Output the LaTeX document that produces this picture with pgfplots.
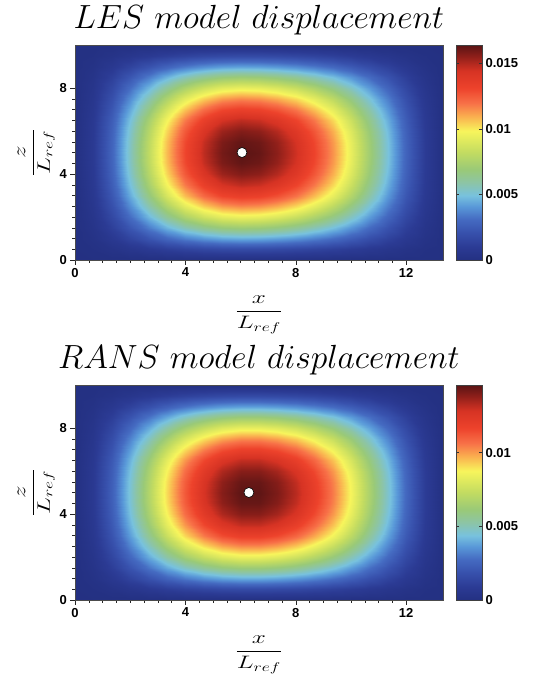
\RequirePackage{fix-cm}
\documentclass[border=0pt]{standalone}
\usepackage{fontspec}
\usepackage{pgfplots}
\pgfplotsset{compat=1.18}
\newfontfamily\arialf{Liberation Sans}
\pgfplotsset{
  colorbar/width=26pt,
  dispstyle/.style={
    width=368pt, height=215pt, scale only axis,
    xmin=0, xmax=13.333, ymin=0, ymax=10,
    xtick={0,4,8,12}, ytick={0,4,8},
    minor x tick num=7, minor y tick num=7,
    tick align=outside, tick pos=left,
    major tick length=4.5pt, minor tick length=2.5pt,
    tick style={black!85, line width=0.5pt},
    axis line style={black!70, line width=0.5pt},
    axis on top,
    ticklabel style={font=\arialf\bfseries\fontsize{13}{15}\selectfont},
    /pgf/number format/assume math mode=true,
    colormap={disp}{rgb(0pt)=(0.14,0.19,0.51); rgb(6pt)=(0.17,0.23,0.58); rgb(13pt)=(0.22,0.32,0.68); rgb(19pt)=(0.27,0.42,0.76); rgb(25pt)=(0.35,0.60,0.85); rgb(30pt)=(0.47,0.76,0.87); rgb(36pt)=(0.55,0.77,0.65); rgb(42pt)=(0.60,0.79,0.47); rgb(50pt)=(0.76,0.86,0.38); rgb(60pt)=(0.97,0.96,0.36); rgb(67pt)=(0.98,0.68,0.31); rgb(73pt)=(0.97,0.44,0.28); rgb(80pt)=(0.93,0.26,0.17); rgb(88pt)=(0.84,0.20,0.14); rgb(95pt)=(0.55,0.12,0.10); rgb(100pt)=(0.35,0.08,0.08)},
    colorbar,
    xlabel={\fontsize{18}{22}\selectfont\scalebox{1.4}[1]{$\displaystyle\frac{x}{L_{ref}}$}},
    ylabel={\fontsize{18}{22}\selectfont\scalebox{1.4}[1]{$\displaystyle\frac{z}{L_{ref}}$}},
    xlabel style={at={(axis description cs:0.5,-0.167)}, anchor=north, inner sep=0pt},
    ylabel style={at={(axis description cs:-0.054,0.5)}, anchor=south, inner sep=0pt},
    title style={at={(axis description cs:0.5,1)}, anchor=base, yshift=11pt, inner sep=0pt, font=\fontsize{33.5}{40}\selectfont},
  },
  cbstyle/.style={
    width=26pt, scale only axis, xmin=0, xmax=1,
    at={(parent axis.north east)}, anchor=north west, xshift=4.5pt,
    scaled y ticks=false,
    tick align=inside, major tick length=3pt,
    tick style={black!80, line width=0.5pt},
    axis line style={black!75, line width=0.6pt},
    yticklabel style={font=\arialf\bfseries\fontsize{13}{15}\selectfont},
  },
}
\begin{document}
\begin{tikzpicture}
\useasboundingbox (0,0) rectangle (541pt,-686pt);
\begin{axis}[dispstyle, at={(75pt,-45pt)}, anchor=north west,
  title={$LES\ model\ displacement$},
  point meta min=0, point meta max=0.0164,
  colorbar style={cbstyle, ytick={0,0.005,0.01,0.015}, yticklabels={0,0.005,0.01,0.015}}]
\addplot[surf, shader=interp, point meta=explicit, mesh/rows=21, mesh/cols=21] coordinates {
(0,0)[0] (0.667,0)[0] (1.333,0)[0] (2,0)[0] (2.667,0)[0] (3.333,0)[0] (4,0)[0] (4.667,0)[0] (5.333,0)[0] (6,0)[0] (6.667,0)[0] (7.333,0)[0] (8,0)[0] (8.667,0)[0] (9.333,0)[0] (10,0)[0] (10.667,0)[0] (11.333,0)[0] (12,0)[0] (12.667,0)[0] (13.333,0)[0]

(0,0.5)[0] (0.667,0.5)[0.00010] (1.333,0.5)[0.00032] (2,0.5)[0.00060] (2.667,0.5)[0.00090] (3.333,0.5)[0.00119] (4,0.5)[0.00144] (4.667,0.5)[0.00164] (5.333,0.5)[0.00176] (6,0.5)[0.00181] (6.667,0.5)[0.00179] (7.333,0.5)[0.00172] (8,0.5)[0.00160] (8.667,0.5)[0.00145] (9.333,0.5)[0.00126] (10,0.5)[0.00103] (10.667,0.5)[0.00079] (11.333,0.5)[0.00055] (12,0.5)[0.00031] (12.667,0.5)[0.00011] (13.333,0.5)[0]

(0,1)[0] (0.667,1)[0.00024] (1.333,1)[0.00076] (2,1)[0.00144] (2.667,1)[0.00217] (3.333,1)[0.00287] (4,1)[0.00347] (4.667,1)[0.00394] (5.333,1)[0.00424] (6,1)[0.00436] (6.667,1)[0.00431] (7.333,1)[0.00414] (8,1)[0.00387] (8.667,1)[0.00349] (9.333,1)[0.00303] (10,1)[0.00249] (10.667,1)[0.00191] (11.333,1)[0.00132] (12,1)[0.00075] (12.667,1)[0.00027] (13.333,1)[0]

(0,1.5)[0] (0.667,1.5)[0.00038] (1.333,1.5)[0.00123] (2,1.5)[0.00231] (2.667,1.5)[0.00348] (3.333,1.5)[0.00460] (4,1.5)[0.00557] (4.667,1.5)[0.00632] (5.333,1.5)[0.00681] (6,1.5)[0.00699] (6.667,1.5)[0.00691] (7.333,1.5)[0.00664] (8,1.5)[0.00620] (8.667,1.5)[0.00560] (9.333,1.5)[0.00486] (10,1.5)[0.00400] (10.667,1.5)[0.00307] (11.333,1.5)[0.00212] (12,1.5)[0.00120] (12.667,1.5)[0.00043] (13.333,1.5)[0]

(0,2)[0] (0.667,2)[0.00051] (1.333,2)[0.00166] (2,2)[0.00313] (2.667,2)[0.00471] (3.333,2)[0.00622] (4,2)[0.00754] (4.667,2)[0.00856] (5.333,2)[0.00921] (6,2)[0.00946] (6.667,2)[0.00935] (7.333,2)[0.00899] (8,2)[0.00840] (8.667,2)[0.00758] (9.333,2)[0.00658] (10,2)[0.00542] (10.667,2)[0.00416] (11.333,2)[0.00286] (12,2)[0.00162] (12.667,2)[0.00058] (13.333,2)[0]

(0,2.5)[0] (0.667,2.5)[0.00063] (1.333,2.5)[0.00204] (2,2.5)[0.00385] (2.667,2.5)[0.00579] (3.333,2.5)[0.00765] (4,2.5)[0.00927] (4.667,2.5)[0.01053] (5.333,2.5)[0.01133] (6,2.5)[0.01163] (6.667,2.5)[0.01150] (7.333,2.5)[0.01106] (8,2.5)[0.01033] (8.667,2.5)[0.00932] (9.333,2.5)[0.00809] (10,2.5)[0.00666] (10.667,2.5)[0.00511] (11.333,2.5)[0.00352] (12,2.5)[0.00200] (12.667,2.5)[0.00071] (13.333,2.5)[0]

(0,3)[0] (0.667,3)[0.00072] (1.333,3)[0.00235] (2,3)[0.00444] (2.667,3)[0.00668] (3.333,3)[0.00883] (4,3)[0.01070] (4.667,3)[0.01215] (5.333,3)[0.01308] (6,3)[0.01342] (6.667,3)[0.01327] (7.333,3)[0.01276] (8,3)[0.01192] (8.667,3)[0.01076] (9.333,3)[0.00933] (10,3)[0.00769] (10.667,3)[0.00590] (11.333,3)[0.00406] (12,3)[0.00231] (12.667,3)[0.00082] (13.333,3)[0]

(0,3.5)[0] (0.667,3.5)[0.00080] (1.333,3.5)[0.00260] (2,3.5)[0.00490] (2.667,3.5)[0.00737] (3.333,3.5)[0.00974] (4,3.5)[0.01180] (4.667,3.5)[0.01339] (5.333,3.5)[0.01441] (6,3.5)[0.01480] (6.667,3.5)[0.01463] (7.333,3.5)[0.01407] (8,3.5)[0.01314] (8.667,3.5)[0.01186] (9.333,3.5)[0.01029] (10,3.5)[0.00848] (10.667,3.5)[0.00650] (11.333,3.5)[0.00448] (12,3.5)[0.00254] (12.667,3.5)[0.00091] (13.333,3.5)[0]

(0,4)[0] (0.667,4)[0.00085] (1.333,4)[0.00276] (2,4)[0.00521] (2.667,4)[0.00783] (3.333,4)[0.01035] (4,4)[0.01255] (4.667,4)[0.01424] (5.333,4)[0.01533] (6,4)[0.01574] (6.667,4)[0.01556] (7.333,4)[0.01496] (8,4)[0.01397] (8.667,4)[0.01262] (9.333,4)[0.01094] (10,4)[0.00901] (10.667,4)[0.00692] (11.333,4)[0.00476] (12,4)[0.00270] (12.667,4)[0.00096] (13.333,4)[0]

(0,4.5)[0] (0.667,4.5)[0.00088] (1.333,4.5)[0.00285] (2,4.5)[0.00538] (2.667,4.5)[0.00809] (3.333,4.5)[0.01070] (4,4.5)[0.01296] (4.667,4.5)[0.01471] (5.333,4.5)[0.01583] (6,4.5)[0.01625] (6.667,4.5)[0.01607] (7.333,4.5)[0.01546] (8,4.5)[0.01443] (8.667,4.5)[0.01303] (9.333,4.5)[0.01130] (10,4.5)[0.00931] (10.667,4.5)[0.00714] (11.333,4.5)[0.00492] (12,4.5)[0.00279] (12.667,4.5)[0.00100] (13.333,4.5)[0]

(0,5)[0] (0.667,5)[0.00089] (1.333,5)[0.00288] (2,5)[0.00543] (2.667,5)[0.00816] (3.333,5)[0.01079] (4,5)[0.01307] (4.667,5)[0.01484] (5.333,5)[0.01597] (6,5)[0.01640] (6.667,5)[0.01621] (7.333,5)[0.01559] (8,5)[0.01456] (8.667,5)[0.01315] (9.333,5)[0.01140] (10,5)[0.00939] (10.667,5)[0.00721] (11.333,5)[0.00496] (12,5)[0.00282] (12.667,5)[0.00101] (13.333,5)[0]

(0,5.5)[0] (0.667,5.5)[0.00088] (1.333,5.5)[0.00285] (2,5.5)[0.00538] (2.667,5.5)[0.00809] (3.333,5.5)[0.01070] (4,5.5)[0.01296] (4.667,5.5)[0.01471] (5.333,5.5)[0.01583] (6,5.5)[0.01625] (6.667,5.5)[0.01607] (7.333,5.5)[0.01546] (8,5.5)[0.01443] (8.667,5.5)[0.01303] (9.333,5.5)[0.01130] (10,5.5)[0.00931] (10.667,5.5)[0.00714] (11.333,5.5)[0.00492] (12,5.5)[0.00279] (12.667,5.5)[0.00100] (13.333,5.5)[0]

(0,6)[0] (0.667,6)[0.00085] (1.333,6)[0.00276] (2,6)[0.00521] (2.667,6)[0.00783] (3.333,6)[0.01035] (4,6)[0.01255] (4.667,6)[0.01424] (5.333,6)[0.01533] (6,6)[0.01574] (6.667,6)[0.01556] (7.333,6)[0.01496] (8,6)[0.01397] (8.667,6)[0.01262] (9.333,6)[0.01094] (10,6)[0.00901] (10.667,6)[0.00692] (11.333,6)[0.00476] (12,6)[0.00270] (12.667,6)[0.00096] (13.333,6)[0]

(0,6.5)[0] (0.667,6.5)[0.00080] (1.333,6.5)[0.00260] (2,6.5)[0.00490] (2.667,6.5)[0.00737] (3.333,6.5)[0.00974] (4,6.5)[0.01180] (4.667,6.5)[0.01339] (5.333,6.5)[0.01441] (6,6.5)[0.01480] (6.667,6.5)[0.01463] (7.333,6.5)[0.01407] (8,6.5)[0.01314] (8.667,6.5)[0.01186] (9.333,6.5)[0.01029] (10,6.5)[0.00848] (10.667,6.5)[0.00650] (11.333,6.5)[0.00448] (12,6.5)[0.00254] (12.667,6.5)[0.00091] (13.333,6.5)[0]

(0,7)[0] (0.667,7)[0.00072] (1.333,7)[0.00235] (2,7)[0.00444] (2.667,7)[0.00668] (3.333,7)[0.00883] (4,7)[0.01070] (4.667,7)[0.01215] (5.333,7)[0.01308] (6,7)[0.01342] (6.667,7)[0.01327] (7.333,7)[0.01276] (8,7)[0.01192] (8.667,7)[0.01076] (9.333,7)[0.00933] (10,7)[0.00769] (10.667,7)[0.00590] (11.333,7)[0.00406] (12,7)[0.00231] (12.667,7)[0.00082] (13.333,7)[0]

(0,7.5)[0] (0.667,7.5)[0.00063] (1.333,7.5)[0.00204] (2,7.5)[0.00385] (2.667,7.5)[0.00579] (3.333,7.5)[0.00765] (4,7.5)[0.00927] (4.667,7.5)[0.01053] (5.333,7.5)[0.01133] (6,7.5)[0.01163] (6.667,7.5)[0.01150] (7.333,7.5)[0.01106] (8,7.5)[0.01033] (8.667,7.5)[0.00932] (9.333,7.5)[0.00809] (10,7.5)[0.00666] (10.667,7.5)[0.00511] (11.333,7.5)[0.00352] (12,7.5)[0.00200] (12.667,7.5)[0.00071] (13.333,7.5)[0]

(0,8)[0] (0.667,8)[0.00051] (1.333,8)[0.00166] (2,8)[0.00313] (2.667,8)[0.00471] (3.333,8)[0.00622] (4,8)[0.00754] (4.667,8)[0.00856] (5.333,8)[0.00921] (6,8)[0.00946] (6.667,8)[0.00935] (7.333,8)[0.00899] (8,8)[0.00840] (8.667,8)[0.00758] (9.333,8)[0.00658] (10,8)[0.00542] (10.667,8)[0.00416] (11.333,8)[0.00286] (12,8)[0.00162] (12.667,8)[0.00058] (13.333,8)[0]

(0,8.5)[0] (0.667,8.5)[0.00038] (1.333,8.5)[0.00123] (2,8.5)[0.00231] (2.667,8.5)[0.00348] (3.333,8.5)[0.00460] (4,8.5)[0.00557] (4.667,8.5)[0.00632] (5.333,8.5)[0.00681] (6,8.5)[0.00699] (6.667,8.5)[0.00691] (7.333,8.5)[0.00664] (8,8.5)[0.00620] (8.667,8.5)[0.00560] (9.333,8.5)[0.00486] (10,8.5)[0.00400] (10.667,8.5)[0.00307] (11.333,8.5)[0.00212] (12,8.5)[0.00120] (12.667,8.5)[0.00043] (13.333,8.5)[0]

(0,9)[0] (0.667,9)[0.00024] (1.333,9)[0.00076] (2,9)[0.00144] (2.667,9)[0.00217] (3.333,9)[0.00287] (4,9)[0.00347] (4.667,9)[0.00394] (5.333,9)[0.00424] (6,9)[0.00436] (6.667,9)[0.00431] (7.333,9)[0.00414] (8,9)[0.00387] (8.667,9)[0.00349] (9.333,9)[0.00303] (10,9)[0.00249] (10.667,9)[0.00191] (11.333,9)[0.00132] (12,9)[0.00075] (12.667,9)[0.00027] (13.333,9)[0]

(0,9.5)[0] (0.667,9.5)[0.00010] (1.333,9.5)[0.00032] (2,9.5)[0.00060] (2.667,9.5)[0.00090] (3.333,9.5)[0.00119] (4,9.5)[0.00144] (4.667,9.5)[0.00164] (5.333,9.5)[0.00176] (6,9.5)[0.00181] (6.667,9.5)[0.00179] (7.333,9.5)[0.00172] (8,9.5)[0.00160] (8.667,9.5)[0.00145] (9.333,9.5)[0.00126] (10,9.5)[0.00103] (10.667,9.5)[0.00079] (11.333,9.5)[0.00055] (12,9.5)[0.00031] (12.667,9.5)[0.00011] (13.333,9.5)[0]

(0,10)[0] (0.667,10)[0] (1.333,10)[0] (2,10)[0] (2.667,10)[0] (3.333,10)[0] (4,10)[0] (4.667,10)[0] (5.333,10)[0] (6,10)[0] (6.667,10)[0] (7.333,10)[0] (8,10)[0] (8.667,10)[0] (9.333,10)[0] (10,10)[0] (10.667,10)[0] (11.333,10)[0] (12,10)[0] (12.667,10)[0] (13.333,10)[0]
};
\addplot[only marks, mark=*, mark size=5pt, mark options={fill=white, draw=black, line width=0.6pt}] coordinates {(6.05,5)};
\end{axis}

\begin{axis}[dispstyle, at={(75pt,-385pt)}, anchor=north west,
  title={$RANS\ model\ displacement$},
  point meta min=0, point meta max=0.0146,
  colorbar style={cbstyle, ytick={0,0.005,0.01}, yticklabels={0,0.005,0.01}}]
\addplot[surf, shader=interp, point meta=explicit, mesh/rows=21, mesh/cols=21] coordinates {
(0,0)[0] (0.667,0)[0] (1.333,0)[0] (2,0)[0] (2.667,0)[0] (3.333,0)[0] (4,0)[0] (4.667,0)[0] (5.333,0)[0] (6,0)[0] (6.667,0)[0] (7.333,0)[0] (8,0)[0] (8.667,0)[0] (9.333,0)[0] (10,0)[0] (10.667,0)[0] (11.333,0)[0] (12,0)[0] (12.667,0)[0] (13.333,0)[0]

(0,0.5)[0] (0.667,0.5)[0.00008] (1.333,0.5)[0.00026] (2,0.5)[0.00050] (2.667,0.5)[0.00076] (3.333,0.5)[0.00101] (4,0.5)[0.00123] (4.667,0.5)[0.00141] (5.333,0.5)[0.00154] (6,0.5)[0.00160] (6.667,0.5)[0.00160] (7.333,0.5)[0.00155] (8,0.5)[0.00146] (8.667,0.5)[0.00133] (9.333,0.5)[0.00116] (10,0.5)[0.00096] (10.667,0.5)[0.00074] (11.333,0.5)[0.00051] (12,0.5)[0.00029] (12.667,0.5)[0.00010] (13.333,0.5)[0]

(0,1)[0] (0.667,1)[0.00020] (1.333,1)[0.00064] (2,1)[0.00121] (2.667,1)[0.00183] (3.333,1)[0.00243] (4,1)[0.00297] (4.667,1)[0.00341] (5.333,1)[0.00371] (6,1)[0.00386] (6.667,1)[0.00386] (7.333,1)[0.00374] (8,1)[0.00352] (8.667,1)[0.00320] (9.333,1)[0.00279] (10,1)[0.00231] (10.667,1)[0.00178] (11.333,1)[0.00123] (12,1)[0.00070] (12.667,1)[0.00025] (13.333,1)[0]

(0,1.5)[0] (0.667,1.5)[0.00031] (1.333,1.5)[0.00102] (2,1.5)[0.00194] (2.667,1.5)[0.00293] (3.333,1.5)[0.00390] (4,1.5)[0.00477] (4.667,1.5)[0.00547] (5.333,1.5)[0.00595] (6,1.5)[0.00619] (6.667,1.5)[0.00619] (7.333,1.5)[0.00601] (8,1.5)[0.00565] (8.667,1.5)[0.00513] (9.333,1.5)[0.00448] (10,1.5)[0.00370] (10.667,1.5)[0.00285] (11.333,1.5)[0.00197] (12,1.5)[0.00112] (12.667,1.5)[0.00040] (13.333,1.5)[0]

(0,2)[0] (0.667,2)[0.00042] (1.333,2)[0.00138] (2,2)[0.00262] (2.667,2)[0.00397] (3.333,2)[0.00528] (4,2)[0.00645] (4.667,2)[0.00740] (5.333,2)[0.00806] (6,2)[0.00839] (6.667,2)[0.00838] (7.333,2)[0.00813] (8,2)[0.00765] (8.667,2)[0.00695] (9.333,2)[0.00606] (10,2)[0.00501] (10.667,2)[0.00386] (11.333,2)[0.00267] (12,2)[0.00152] (12.667,2)[0.00054] (13.333,2)[0]

(0,2.5)[0] (0.667,2.5)[0.00052] (1.333,2.5)[0.00170] (2,2.5)[0.00323] (2.667,2.5)[0.00488] (3.333,2.5)[0.00650] (4,2.5)[0.00794] (4.667,2.5)[0.00910] (5.333,2.5)[0.00991] (6,2.5)[0.01031] (6.667,2.5)[0.01031] (7.333,2.5)[0.01000] (8,2.5)[0.00941] (8.667,2.5)[0.00854] (9.333,2.5)[0.00745] (10,2.5)[0.00617] (10.667,2.5)[0.00475] (11.333,2.5)[0.00328] (12,2.5)[0.00187] (12.667,2.5)[0.00067] (13.333,2.5)[0]

(0,3)[0] (0.667,3)[0.00060] (1.333,3)[0.00196] (2,3)[0.00372] (2.667,3)[0.00563] (3.333,3)[0.00750] (4,3)[0.00916] (4.667,3)[0.01050] (5.333,3)[0.01143] (6,3)[0.01190] (6.667,3)[0.01190] (7.333,3)[0.01154] (8,3)[0.01085] (8.667,3)[0.00986] (9.333,3)[0.00860] (10,3)[0.00712] (10.667,3)[0.00548] (11.333,3)[0.00379] (12,3)[0.00216] (12.667,3)[0.00077] (13.333,3)[0]

(0,3.5)[0] (0.667,3.5)[0.00066] (1.333,3.5)[0.00216] (2,3.5)[0.00410] (2.667,3.5)[0.00621] (3.333,3.5)[0.00826] (4,3.5)[0.01010] (4.667,3.5)[0.01158] (5.333,3.5)[0.01260] (6,3.5)[0.01312] (6.667,3.5)[0.01312] (7.333,3.5)[0.01272] (8,3.5)[0.01197] (8.667,3.5)[0.01087] (9.333,3.5)[0.00948] (10,3.5)[0.00784] (10.667,3.5)[0.00605] (11.333,3.5)[0.00418] (12,3.5)[0.00238] (12.667,3.5)[0.00085] (13.333,3.5)[0]

(0,4)[0] (0.667,4)[0.00071] (1.333,4)[0.00230] (2,4)[0.00436] (2.667,4)[0.00661] (3.333,4)[0.00879] (4,4)[0.01074] (4.667,4)[0.01231] (5.333,4)[0.01340] (6,4)[0.01395] (6.667,4)[0.01395] (7.333,4)[0.01353] (8,4)[0.01273] (8.667,4)[0.01156] (9.333,4)[0.01008] (10,4)[0.00834] (10.667,4)[0.00643] (11.333,4)[0.00444] (12,4)[0.00253] (12.667,4)[0.00091] (13.333,4)[0]

(0,4.5)[0] (0.667,4.5)[0.00073] (1.333,4.5)[0.00237] (2,4.5)[0.00451] (2.667,4.5)[0.00682] (3.333,4.5)[0.00908] (4,4.5)[0.01109] (4.667,4.5)[0.01272] (5.333,4.5)[0.01384] (6,4.5)[0.01441] (6.667,4.5)[0.01441] (7.333,4.5)[0.01398] (8,4.5)[0.01314] (8.667,4.5)[0.01194] (9.333,4.5)[0.01041] (10,4.5)[0.00862] (10.667,4.5)[0.00664] (11.333,4.5)[0.00459] (12,4.5)[0.00261] (12.667,4.5)[0.00093] (13.333,4.5)[0]

(0,5)[0] (0.667,5)[0.00074] (1.333,5)[0.00240] (2,5)[0.00455] (2.667,5)[0.00688] (3.333,5)[0.00916] (4,5)[0.01119] (4.667,5)[0.01283] (5.333,5)[0.01397] (6,5)[0.01454] (6.667,5)[0.01454] (7.333,5)[0.01410] (8,5)[0.01326] (8.667,5)[0.01205] (9.333,5)[0.01050] (10,5)[0.00869] (10.667,5)[0.00670] (11.333,5)[0.00463] (12,5)[0.00264] (12.667,5)[0.00094] (13.333,5)[0]

(0,5.5)[0] (0.667,5.5)[0.00073] (1.333,5.5)[0.00237] (2,5.5)[0.00451] (2.667,5.5)[0.00682] (3.333,5.5)[0.00908] (4,5.5)[0.01109] (4.667,5.5)[0.01272] (5.333,5.5)[0.01384] (6,5.5)[0.01441] (6.667,5.5)[0.01441] (7.333,5.5)[0.01398] (8,5.5)[0.01314] (8.667,5.5)[0.01194] (9.333,5.5)[0.01041] (10,5.5)[0.00862] (10.667,5.5)[0.00664] (11.333,5.5)[0.00459] (12,5.5)[0.00261] (12.667,5.5)[0.00093] (13.333,5.5)[0]

(0,6)[0] (0.667,6)[0.00071] (1.333,6)[0.00230] (2,6)[0.00436] (2.667,6)[0.00661] (3.333,6)[0.00879] (4,6)[0.01074] (4.667,6)[0.01231] (5.333,6)[0.01340] (6,6)[0.01395] (6.667,6)[0.01395] (7.333,6)[0.01353] (8,6)[0.01273] (8.667,6)[0.01156] (9.333,6)[0.01008] (10,6)[0.00834] (10.667,6)[0.00643] (11.333,6)[0.00444] (12,6)[0.00253] (12.667,6)[0.00091] (13.333,6)[0]

(0,6.5)[0] (0.667,6.5)[0.00066] (1.333,6.5)[0.00216] (2,6.5)[0.00410] (2.667,6.5)[0.00621] (3.333,6.5)[0.00826] (4,6.5)[0.01010] (4.667,6.5)[0.01158] (5.333,6.5)[0.01260] (6,6.5)[0.01312] (6.667,6.5)[0.01312] (7.333,6.5)[0.01272] (8,6.5)[0.01197] (8.667,6.5)[0.01087] (9.333,6.5)[0.00948] (10,6.5)[0.00784] (10.667,6.5)[0.00605] (11.333,6.5)[0.00418] (12,6.5)[0.00238] (12.667,6.5)[0.00085] (13.333,6.5)[0]

(0,7)[0] (0.667,7)[0.00060] (1.333,7)[0.00196] (2,7)[0.00372] (2.667,7)[0.00563] (3.333,7)[0.00750] (4,7)[0.00916] (4.667,7)[0.01050] (5.333,7)[0.01143] (6,7)[0.01190] (6.667,7)[0.01190] (7.333,7)[0.01154] (8,7)[0.01085] (8.667,7)[0.00986] (9.333,7)[0.00860] (10,7)[0.00712] (10.667,7)[0.00548] (11.333,7)[0.00379] (12,7)[0.00216] (12.667,7)[0.00077] (13.333,7)[0]

(0,7.5)[0] (0.667,7.5)[0.00052] (1.333,7.5)[0.00170] (2,7.5)[0.00323] (2.667,7.5)[0.00488] (3.333,7.5)[0.00650] (4,7.5)[0.00794] (4.667,7.5)[0.00910] (5.333,7.5)[0.00991] (6,7.5)[0.01031] (6.667,7.5)[0.01031] (7.333,7.5)[0.01000] (8,7.5)[0.00941] (8.667,7.5)[0.00854] (9.333,7.5)[0.00745] (10,7.5)[0.00617] (10.667,7.5)[0.00475] (11.333,7.5)[0.00328] (12,7.5)[0.00187] (12.667,7.5)[0.00067] (13.333,7.5)[0]

(0,8)[0] (0.667,8)[0.00042] (1.333,8)[0.00138] (2,8)[0.00262] (2.667,8)[0.00397] (3.333,8)[0.00528] (4,8)[0.00645] (4.667,8)[0.00740] (5.333,8)[0.00806] (6,8)[0.00839] (6.667,8)[0.00838] (7.333,8)[0.00813] (8,8)[0.00765] (8.667,8)[0.00695] (9.333,8)[0.00606] (10,8)[0.00501] (10.667,8)[0.00386] (11.333,8)[0.00267] (12,8)[0.00152] (12.667,8)[0.00054] (13.333,8)[0]

(0,8.5)[0] (0.667,8.5)[0.00031] (1.333,8.5)[0.00102] (2,8.5)[0.00194] (2.667,8.5)[0.00293] (3.333,8.5)[0.00390] (4,8.5)[0.00477] (4.667,8.5)[0.00547] (5.333,8.5)[0.00595] (6,8.5)[0.00619] (6.667,8.5)[0.00619] (7.333,8.5)[0.00601] (8,8.5)[0.00565] (8.667,8.5)[0.00513] (9.333,8.5)[0.00448] (10,8.5)[0.00370] (10.667,8.5)[0.00285] (11.333,8.5)[0.00197] (12,8.5)[0.00112] (12.667,8.5)[0.00040] (13.333,8.5)[0]

(0,9)[0] (0.667,9)[0.00020] (1.333,9)[0.00064] (2,9)[0.00121] (2.667,9)[0.00183] (3.333,9)[0.00243] (4,9)[0.00297] (4.667,9)[0.00341] (5.333,9)[0.00371] (6,9)[0.00386] (6.667,9)[0.00386] (7.333,9)[0.00374] (8,9)[0.00352] (8.667,9)[0.00320] (9.333,9)[0.00279] (10,9)[0.00231] (10.667,9)[0.00178] (11.333,9)[0.00123] (12,9)[0.00070] (12.667,9)[0.00025] (13.333,9)[0]

(0,9.5)[0] (0.667,9.5)[0.00008] (1.333,9.5)[0.00026] (2,9.5)[0.00050] (2.667,9.5)[0.00076] (3.333,9.5)[0.00101] (4,9.5)[0.00123] (4.667,9.5)[0.00141] (5.333,9.5)[0.00154] (6,9.5)[0.00160] (6.667,9.5)[0.00160] (7.333,9.5)[0.00155] (8,9.5)[0.00146] (8.667,9.5)[0.00133] (9.333,9.5)[0.00116] (10,9.5)[0.00096] (10.667,9.5)[0.00074] (11.333,9.5)[0.00051] (12,9.5)[0.00029] (12.667,9.5)[0.00010] (13.333,9.5)[0]

(0,10)[0] (0.667,10)[0] (1.333,10)[0] (2,10)[0] (2.667,10)[0] (3.333,10)[0] (4,10)[0] (4.667,10)[0] (5.333,10)[0] (6,10)[0] (6.667,10)[0] (7.333,10)[0] (8,10)[0] (8.667,10)[0] (9.333,10)[0] (10,10)[0] (10.667,10)[0] (11.333,10)[0] (12,10)[0] (12.667,10)[0] (13.333,10)[0]
};
\addplot[only marks, mark=*, mark size=5pt, mark options={fill=white, draw=black, line width=0.6pt}] coordinates {(6.3,5)};
\end{axis}
\end{tikzpicture}
\end{document}
